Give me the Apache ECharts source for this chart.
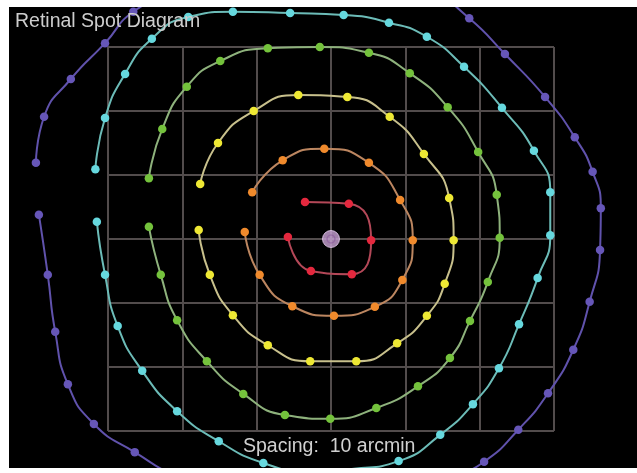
<!DOCTYPE html>
<html>
<head>
<meta charset="utf-8">
<script src="https://cdn.jsdelivr.net/npm/echarts@6/dist/echarts.min.js"></script>
<style>
  html, body { margin: 0; padding: 0; background: #ffffff; }
  #chart { position: absolute; left: 9px; top: 7px; width: 628px; height: 461px; }
</style>
</head>
<body>
<div id="chart"></div>
<script>
// Spot centroids in arcmin (x to the right, y up), one ring per field angle.
// Each ring starts just below the left end and runs round to just above it.
const ringRed = [[-5.8,0.3],[-2.7,-5.0],[2.8,-5.5],[5.4,-0.2],[2.4,5.5],[-3.5,5.8]];

const ringOrange = [[-11.6,1.1],[-9.6,-5.6],[-5.2,-10.5],[0.4,-12.0],[5.9,-10.6],[9.6,-6.4],
  [11.0,-0.2],[9.3,6.1],[5.1,11.9],[-0.9,14.1],[-6.5,12.3],[-10.6,7.3]];

const ringYellow = [[-17.8,1.4],[-16.3,-5.6],[-13.2,-11.9],[-8.5,-16.6],[-2.8,-19.1],[3.4,-19.1],
  [8.9,-16.3],[12.9,-12.0],[15.3,-7.0],[16.5,-0.2],[15.9,6.4],[12.5,13.3],
  [7.9,19.1],[2.2,22.2],[-4.4,22.5],[-10.4,20.0],[-15.2,15.0],[-17.6,8.6]];

const ringGreen = [[-24.5,1.9],[-22.9,-5.6],[-20.7,-12.7],[-16.7,-19.1],[-11.8,-24.2],[-6.2,-27.5],
  [-0.1,-28.1],[6.1,-26.4],[11.7,-23.0],[16.0,-18.6],[18.7,-12.8],[21.1,-6.7],
  [22.7,0.2],[22.3,6.9],[19.8,13.6],[15.7,20.6],[10.6,25.9],[5.1,29.1],
  [-1.5,30.0],[-8.5,29.8],[-14.9,27.8],[-19.4,23.8],[-22.7,17.2],[-24.5,9.5]];

const ringCyan = [[-31.5,2.7],[-30.4,-5.6],[-28.7,-13.6],[-25.4,-20.6],[-20.7,-26.9],[-15.1,-31.6],
  [-9.1,-35.0],[-3.1,-36.3],[3.1,-35.9],[9.1,-34.7],[14.7,-30.6],[19.1,-25.8],
  [22.6,-20.2],[25.3,-13.3],[27.8,-6.1],[29.5,0.6],[29.5,7.3],[27.3,13.8],
  [23.0,20.5],[17.9,26.9],[12.9,31.6],[7.8,33.8],[1.7,35.0],[-5.5,35.3],
  [-13.2,35.5],[-19.2,34.7],[-24.1,31.3],[-27.7,25.8],[-30.4,18.9],[-31.7,10.9]];

const ringViolet = [[-39.3,3.8],[-38.1,-5.6],[-37.1,-14.5],[-35.4,-22.7],[-31.9,-28.9],[-26.4,-33.3],
  [-20.3,-37.3],[-13.3,-40.0],[-5.5,-41.3],[2.6,-41.3],[10.0,-39.8],[16.0,-37.3],
  [20.6,-34.8],[25.2,-29.8],[29.2,-24.1],[32.6,-17.3],[34.8,-9.8],[36.2,-1.7],
  [36.3,4.8],[35.2,10.5],[32.8,15.9],[28.8,22.2],[23.4,28.9],[18.6,34.5],
  [13.3,38.9],[7.3,41.3],[-0.1,42.0],[-7.5,41.7],[-14.9,40.2],[-21.4,38.1],
  [-26.6,35.5],[-30.4,30.6],[-35.0,25.0],[-38.6,19.1],[-39.7,11.9]];

// Chief ray spot at the centre of the field
const centreSpot = [[0, 0]];

// Reference grid: 10 arcmin spacing over +/-30 arcmin
const gridMin = -30;
const gridMax = 30;
const gridStep = 10;

const titleText = 'Retinal Spot Diagram';
const spacingText = 'Spacing:  10 arcmin';

// Plot window in arcmin (the black panel)
const viewX = [-43.32, 41.17];
const viewY = [-35.78, 36.25];

const rings = [
  { name: 'r6', data: ringViolet, dot: '#6656b8', line: '#6052ac', size: 8.5 },
  { name: 'r5', data: ringCyan,   dot: '#66d8de', line: '#6cbcb8', size: 8.5 },
  { name: 'r4', data: ringGreen,  dot: '#74c23c', line: '#8eb27c', size: 8.5 },
  { name: 'r3', data: ringYellow, dot: '#eee834', line: '#c8c08c', size: 8.5 },
  { name: 'r2', data: ringOrange, dot: '#f08a2c', line: '#bc8660', size: 8.5 },
  { name: 'r1', data: ringRed,    dot: '#e4283e', line: '#b44858', size: 8.5 }
];

const chart = echarts.init(document.getElementById('chart'), null, { renderer: 'canvas' });

const series = rings.map(r => ({
  name: r.name,
  type: 'line',
  xAxisIndex: 0,
  yAxisIndex: 0,
  data: r.data,
  smooth: 0.55,
  symbol: 'circle',
  symbolSize: r.size,
  showSymbol: true,
  clip: true,
  itemStyle: { color: r.dot, borderWidth: 0 },
  lineStyle: { color: r.line, width: 2 },
  emphasis: { disabled: true },
  z: 3
}));

series.push({
  name: 'centre',
  type: 'scatter',
  xAxisIndex: 0,
  yAxisIndex: 0,
  data: centreSpot,
  symbol: 'circle',
  symbolSize: 17,
  itemStyle: { color: '#c9a3d4', borderColor: '#e6cdee', borderWidth: 1 },
  z: 4
});
series.push({
  name: 'centreCore',
  type: 'scatter',
  xAxisIndex: 0,
  yAxisIndex: 0,
  data: centreSpot,
  symbol: 'circle',
  symbolSize: 8,
  itemStyle: { color: 'rgba(0,0,0,0)', borderColor: '#8f5f9f', borderWidth: 1.2 },
  z: 5
});

const textFont = 'Liberation Sans, Arial, sans-serif';

const option = {
  backgroundColor: '#000000',
  animation: false,
  title: [
    {
      text: titleText,
      left: 6, top: 5, padding: 0,
      textStyle: { color: '#cdcdcd', fontSize: 19.5, fontWeight: 'normal', fontFamily: textFont }
    },
    {
      text: spacingText,
      left: 234, top: 430, padding: 0,
      textStyle: { color: '#d0d0d0', fontSize: 19.5, fontWeight: 'normal', fontFamily: textFont }
    }
  ],
  grid: [
    { left: 0, top: 0, right: 0, bottom: 0, containLabel: false },
    { left: 99, top: 40, width: 446, height: 384, containLabel: false }
  ],
  xAxis: [
    { type: 'value', gridIndex: 0, min: viewX[0], max: viewX[1], show: false },
    {
      type: 'value', gridIndex: 1, min: gridMin, max: gridMax, interval: gridStep,
      axisLine: { show: false }, axisTick: { show: false }, axisLabel: { show: false },
      splitLine: { show: true, showMinLine: true, showMaxLine: true, lineStyle: { color: '#524c4c', width: 2 } }
    }
  ],
  yAxis: [
    { type: 'value', gridIndex: 0, min: viewY[0], max: viewY[1], show: false },
    {
      type: 'value', gridIndex: 1, min: gridMin, max: gridMax, interval: gridStep,
      axisLine: { show: false }, axisTick: { show: false }, axisLabel: { show: false },
      splitLine: { show: true, showMinLine: true, showMaxLine: true, lineStyle: { color: '#524c4c', width: 2 } }
    }
  ],
  series: series
};

chart.setOption(option);
</script>
</body>
</html>
